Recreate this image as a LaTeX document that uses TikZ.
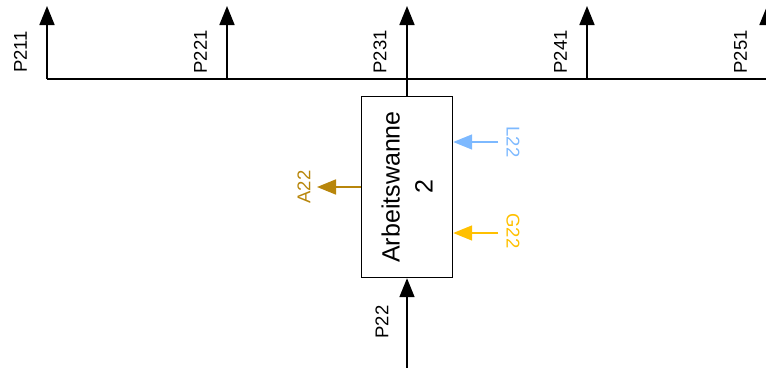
\documentclass[tikz,border=0pt]{standalone}
\usepackage{fontspec}
\setmainfont{Liberation Sans}
\usepackage{graphicx}
\usetikzlibrary{arrows.meta}
\definecolor{lblue}{RGB}{125,185,255}
\definecolor{gelb}{RGB}{255,192,0}
\definecolor{dgold}{RGB}{184,134,11}
\begin{document}
\begin{tikzpicture}[x=1pt,y=-1pt,
  conn/.style={line width=1.8pt, draw=black},
  flow/.style={line width=1.7pt, -{Triangle[length=19pt,width=15pt]}},
  lab/.style={font=\fontsize{18.5}{21}\selectfont, inner sep=0pt},
  wannebox/.style={draw, line width=1.4pt, minimum width=91pt, minimum height=181pt, inner sep=0pt,
    font=\fontsize{25}{31}\selectfont}]
\useasboundingbox (0,0) rectangle (766,367);
\clip (0,0) rectangle (766,367);
% coordinates on the collector line and arrow tips
\foreach \i/\x in {1/47,2/227,3/407,4/587,5/767}{
  \coordinate (b\i) at (\x,79);
  \coordinate (t\i) at (\x,6);
}
\coordinate (bend) at (775,79);
% box
\node[wannebox] (wanne) at (407,187) {\hspace*{6pt}\rotatebox{90}{\begin{tabular}{@{}c@{}}Arbeitswanne\\[2pt]2\end{tabular}}};
% collector line
\draw[conn] (b1) -- (bend);
% upward arrows
\draw[flow] (b1) -- (t1);
\draw[flow] (b2) -- (t2);
\draw[flow] (wanne.north) -- (t3);
\draw[flow] (b4) -- (t4);
\draw[flow] (b5) -- (t5);
% top labels
\node[lab, rotate=90] (p211) at (20.5,52) {P211};
\node[lab, rotate=90] (p221) at (200.5,52) {P221};
\node[lab, rotate=90] (p231) at (380,52) {P231};
\node[lab, rotate=90] (p241) at (560.5,52) {P241};
\node[lab, rotate=90] (p251) at (740.5,52) {P251};
% inflow from below
\coordinate (pin) at (407,372);
\draw[flow] (pin) -- (wanne.south);
\node[lab, rotate=90] (p22) at (382,322) {P22};
% L22
\coordinate (lin) at (498,142);
\draw[flow, draw=lblue, fill=lblue] (lin) -- (lin -| wanne.east);
\node[lab, rotate=-90, text=lblue] (l22) at (513,142) {L22};
% G22
\coordinate (gin) at (498,233);
\draw[flow, draw=gelb, fill=gelb] (gin) -- (gin -| wanne.east);
\node[lab, rotate=-90, text=gelb] (g22) at (513,231) {G22};
% A22
\coordinate (aout) at (317,187);
\draw[flow, draw=dgold, fill=dgold] (wanne.west) -- (aout);
\node[lab, rotate=90, text=dgold] (a22) at (304,187) {A22};
\end{tikzpicture}
\end{document}
